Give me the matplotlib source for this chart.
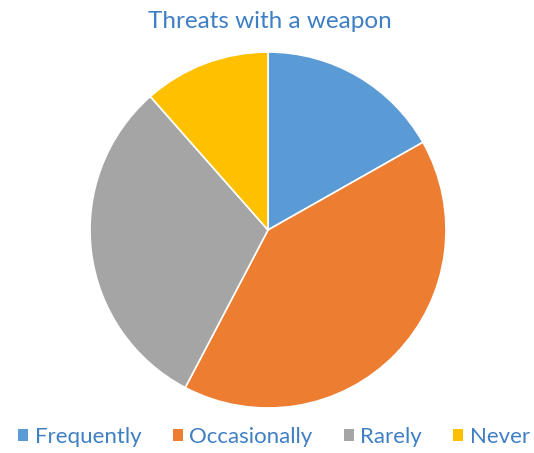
import matplotlib
matplotlib.use("Agg")
import matplotlib.pyplot as plt
from matplotlib.patches import Patch

# data (share of responses)
labels = ["Frequently", "Occasionally", "Rarely", "Never"]
values = [16.8, 40.9, 30.8, 11.5]
colors = ["#5B9BD5", "#ED7D31", "#A5A5A5", "#FFC000"]
title = "Threats with a weapon"

text_color = "#3F7FC4"
plt.rcParams["font.family"] = ["Lato", "DejaVu Sans"]

fig = plt.figure(figsize=(5.34, 4.53), dpi=100)
# pie centre at (268, 230) px, radius ~178 px
ax = fig.add_axes([(268 - 178) / 534, 1 - (230 + 178) / 453, 356 / 534, 356 / 453])
ax.pie(values, colors=colors, startangle=90, counterclock=False,
       wedgeprops=dict(edgecolor="white", linewidth=1.2), radius=1.0)
ax.set_xlim(-1, 1)
ax.set_ylim(-1, 1)
ax.set_aspect("equal")
ax.axis("off")

fig.text(270 / 534, 1 - 22 / 453, title, ha="center", va="center",
         fontsize=17.5, color=text_color)

handles = [Patch(facecolor=c, edgecolor="none") for c in colors]
fig.legend(handles, labels, loc="center", bbox_to_anchor=(274 / 534, 1 - 437 / 453),
           ncol=4, frameon=False, fontsize=16, handlelength=0.45, handleheight=0.45,
           handletextpad=0.3, columnspacing=1.4, labelcolor=text_color,
           borderpad=0, borderaxespad=0)

fig.savefig("out.png", dpi=100)
